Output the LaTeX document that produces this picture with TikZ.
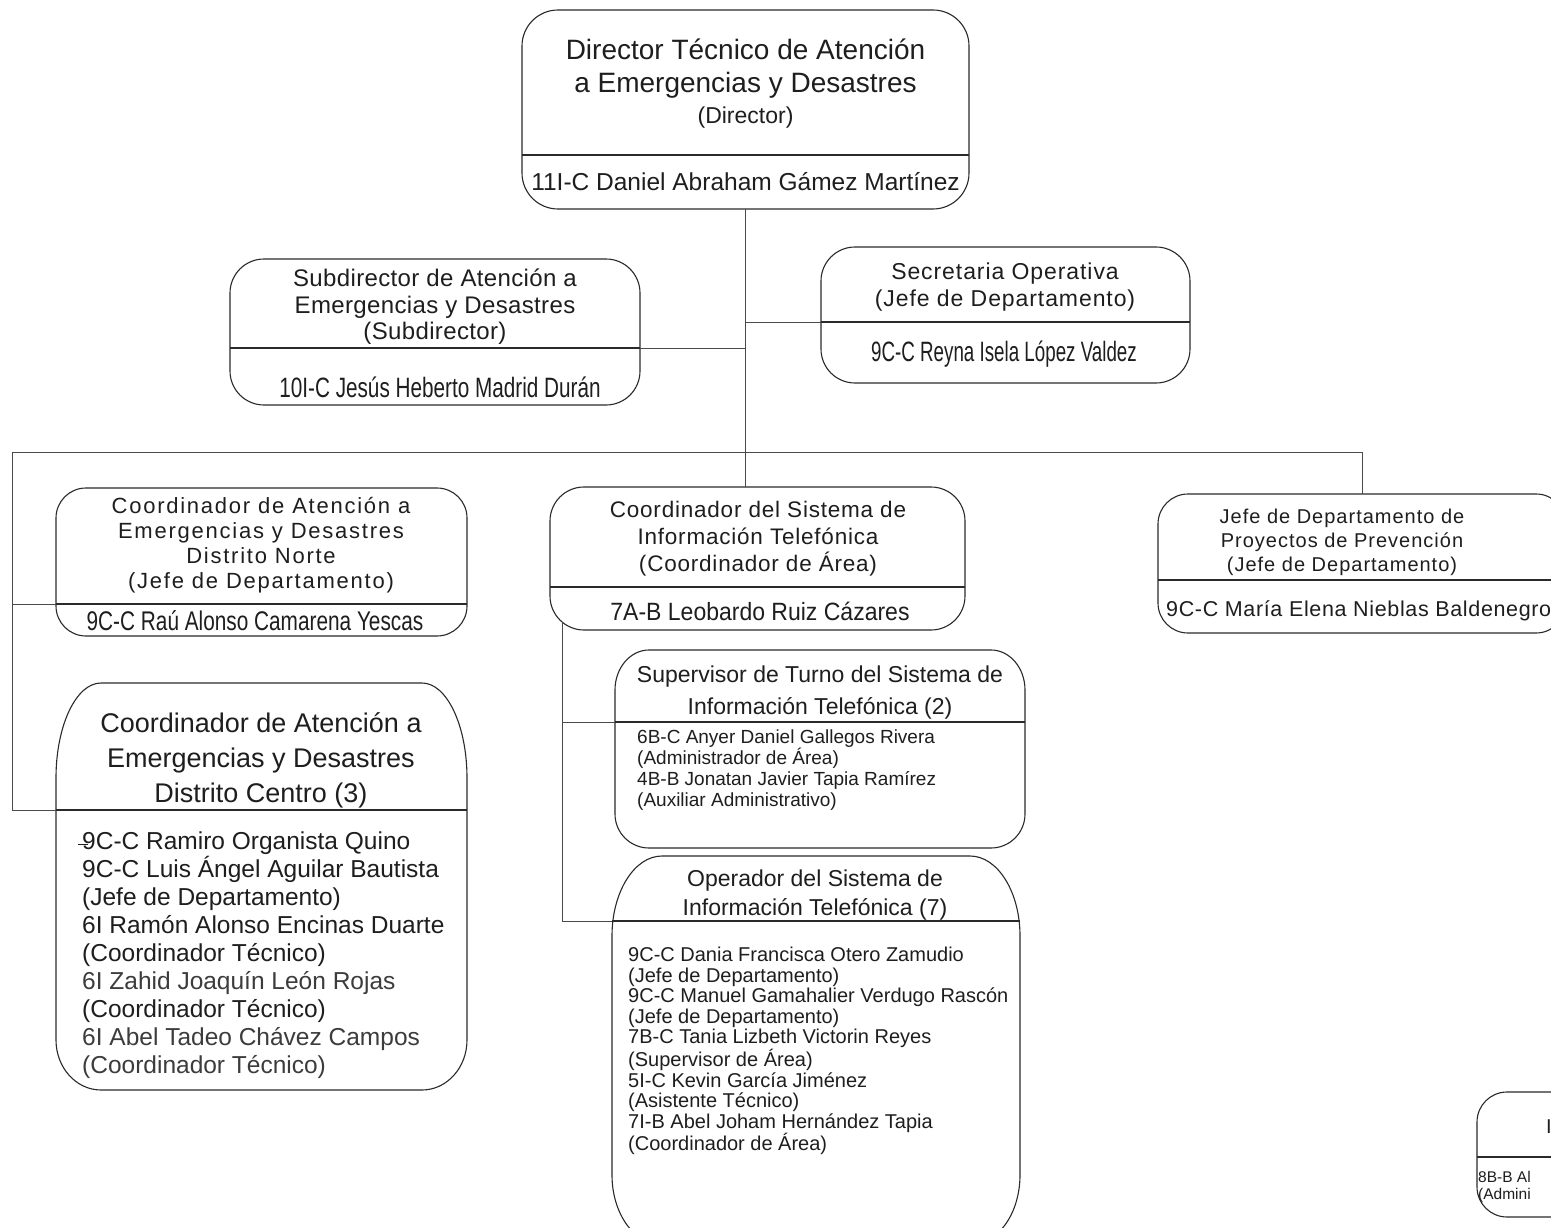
\documentclass[tikz,border=0pt]{standalone}
\usepackage{fontspec}
\setmainfont{Liberation Sans}
\newfontfamily\nA[FakeStretch=0.67]{Liberation Sans}
\newfontfamily\nB[FakeStretch=0.74]{Liberation Sans}
\newfontfamily\nC[FakeStretch=0.77]{Liberation Sans}
\newfontfamily\nD[FakeStretch=0.92]{Liberation Sans}
\usetikzlibrary{fit,calc}
\definecolor{ink}{HTML}{1E1E1E}
\definecolor{inkg}{HTML}{3C3C3C}
\definecolor{lineC}{HTML}{2A2A2A}
\definecolor{connC}{HTML}{4A4A4A}
\newcommand\fz[2]{\fontsize{#1}{#2}\selectfont}
\newcommand\lsp[1]{\addfontfeature{LetterSpace=#1}}
% name, x1, y1, x2, y2, rx top, ry top, rx bottom, ry bottom
\newcommand\ebox[9]{%
  \node[inner sep=0pt, fit={(#2,#3) (#4,#5)}] (#1) {};
  \draw[boxline] (#2,#3+#7) .. controls (#2,#3+0.448*#7) and (#2+0.448*#6,#3) .. (#2+#6,#3)
    -- (#4-#6,#3) .. controls (#4-0.448*#6,#3) and (#4,#3+0.448*#7) .. (#4,#3+#7)
    -- (#4,#5-#9) .. controls (#4,#5-0.448*#9) and (#4-0.448*#8,#5) .. (#4-#8,#5)
    -- (#2+#8,#5) .. controls (#2+0.448*#8,#5) and (#2,#5-0.448*#9) .. (#2,#5-#9) -- cycle;}
\newcommand\divline[2]{%
  \path (0,#2) coordinate (tmpdiv);
  \draw[boxline] (#1.west |- tmpdiv) -- (#1.east |- tmpdiv);}
\tikzset{
  boxline/.style={draw=lineC, line width=1.1pt},
  conn/.style={draw=connC, line width=1pt},
  txt/.style={inner sep=0pt, text=ink, align=center},
  ltxt/.style={inner sep=0pt, text=ink, align=left, anchor=west},
}
\begin{document}
\begin{tikzpicture}[x=1pt,y=-1pt]
\useasboundingbox (0,0) rectangle (1551,1228);
\fill[white] (0,0) rectangle (1551,1228);
\clip (0,0) rectangle (1551,1228);

% ---------- connector points ----------
\coordinate (jSec) at (745.5,322);
\coordinate (jSub) at (745.5,348);
\coordinate (busL) at (12,452);
\coordinate (busR) at (1362,452);
\coordinate (lNor) at (12,604);
\coordinate (lCen) at (12,810);
\coordinate (vTop) at (562,622);
\coordinate (vSup) at (562,722);
\coordinate (vOp) at (562,921);

% ---------- boxes ----------
\ebox{dir}{522}{10}{969}{209}{36}{36}{36}{36}
\divline{dir}{155}
\ebox{sub}{230}{259}{640}{405}{34}{34}{34}{34}
\divline{sub}{348}
\ebox{sec}{821}{247}{1190}{383}{34}{34}{34}{34}
\divline{sec}{322}
\ebox{nor}{56}{488}{467}{636}{30}{30}{30}{30}
\divline{nor}{604}
\ebox{cen}{56}{683}{467}{1090}{45}{95}{45}{50}
\divline{cen}{810}
\ebox{cst}{550}{487}{965}{630}{34}{34}{34}{34}
\divline{cst}{587}
\ebox{sup}{615}{650}{1025}{848}{34}{40}{34}{34}
\divline{sup}{722}
\ebox{op}{612}{856}{1020}{1245}{50}{80}{50}{70}
\divline{op}{921}
\ebox{pro}{1158}{494}{1566}{633}{30}{30}{30}{30}
\divline{pro}{580}
\ebox{br}{1477}{1092}{1640}{1217}{30}{30}{30}{30}
\divline{br}{1157}

% ---------- connectors ----------
\draw[conn] (dir.south) -- (dir.south |- cst.north);
\draw[conn] (jSub) -- (sub.east |- jSub);
\draw[conn] (jSec) -- (sec.west |- jSec);
\draw[conn] (lCen) -- (busL) -- (busR) -- (pro.north);
\draw[conn] (lNor) -- (nor.west |- lNor);
\draw[conn] (lCen) -- (cen.west |- lCen);
\draw[conn] (vTop) -- (vOp) -- (op.west |- vOp);
\draw[conn] (vSup) -- (sup.west |- vSup);

% ---------- texts ----------
\node[txt, font={\fz{28}{33}}] (dirT) at (745.5,68.5) {Director Técnico de Atención\\a Emergencias y Desastres};
\node[txt, font={\fz{23}{26}}] (dirR) at (745.5,118) {(Director)};
\node[txt, font={\fz{24.5}{28}}] (dirN) at (745.5,182) {11I-C Daniel Abraham Gámez Martínez};

\node[txt, font={\fz{24}{26.5}\lsp{1.5}}] (subT) at (435,307) {Subdirector de Atención a\\Emergencias y Desastres\\(Subdirector)};
\node[txt, font={\nB\fz{28}{30}}] (subN) at (440,387) {10I-C Jesús Heberto Madrid Durán};

\node[txt, font={\fz{23}{27}\lsp{4}}] (secT) at (1005,287) {Secretaria Operativa\\(Jefe de Departamento)};
\node[txt, font={\nA\fz{28}{30}}] (secN) at (1004,354) {9C-C Reyna Isela López Valdez};

\node[txt, font={\fz{22}{25}\lsp{8}}] (norT) at (261,545) {Coordinador de Atención a\\Emergencias y Desastres\\Distrito Norte\\(Jefe de Departamento)};
\node[txt, font={\nC\fz{27}{30}}] (norN) at (255,621) {9C-C Raú Alonso Camarena Yescas};

\node[txt, font={\fz{27}{35}}] (cenT) at (261,760) {Coordinador de Atención a\\Emergencias y Desastres\\Distrito Centro (3)};
\node[ltxt, font={\fz{24.5}{28}}] (cenB) at (82,955) {9C-C Ramiro Organista Quino\\9C-C Luis Ángel Aguilar Bautista\\(Jefe de Departamento)\\6I Ramón Alonso Encinas Duarte\\(Coordinador Técnico)\\\textcolor{inkg}{6I Zahid Joaquín León Rojas}\\(Coordinador Técnico)\\\textcolor{inkg}{6I Abel Tadeo Chávez Campos}\\\textcolor{inkg}{(Coordinador Técnico)}};
\draw[draw=ink, line width=1pt] (78,844) -- (88,844);

\node[txt, font={\fz{22.5}{27}\lsp{3.5}}] (cstT) at (758,539) {Coordinador del Sistema de\\Información Telefónica\\(Coordinador de Área)};
\node[txt, font={\nD\fz{25}{28}}] (cstN) at (760,611) {7A-B Leobardo Ruiz Cázares};

\node[txt, font={\fz{23}{32}}] (supT) at (820,693) {Supervisor de Turno del Sistema de\\Información Telefónica (2)};
\node[ltxt, font={\fz{19}{21}}] (supB) at (637,770) {6B-C Anyer Daniel Gallegos Rivera\\(Administrador de Área)\\4B-B Jonatan Javier Tapia Ramírez\\(Auxiliar Administrativo)};

\node[txt, font={\fz{23}{29}}] (opT) at (815,895.5) {Operador del Sistema de\\Información Telefónica (7)};
\node[ltxt, font={\fz{20}{20.6}}] (opB) at (628,1051) {9C-C Dania Francisca Otero Zamudio\\(Jefe de Departamento)\\9C-C Manuel Gamahalier Verdugo Rascón\\(Jefe de Departamento)\\7B-C Tania Lizbeth Victorin Reyes\\(Supervisor de Área)\\5I-C Kevin García Jiménez\\(Asistente Técnico)\\7I-B Abel Joham Hernández Tapia\\(Coordinador de Área)};

\node[txt, font={\fz{20}{24}\lsp{5}}] (proT) at (1342,542) {Jefe de Departamento de\\Proyectos de Prevención\\(Jefe de Departamento)};
\node[ltxt, font={\fz{21.5}{24}\lsp{3}}] (proN) at (1166,611) {9C-C María Elena Nieblas Baldenegro};

\node[ltxt, font={\fz{20}{24}}] (brT) at (1546,1127) {I};
\node[ltxt, font={\fz{15.5}{17}}] (brB) at (1478,1187) {8B-B Al\\(Admini};
\end{tikzpicture}
\end{document}
